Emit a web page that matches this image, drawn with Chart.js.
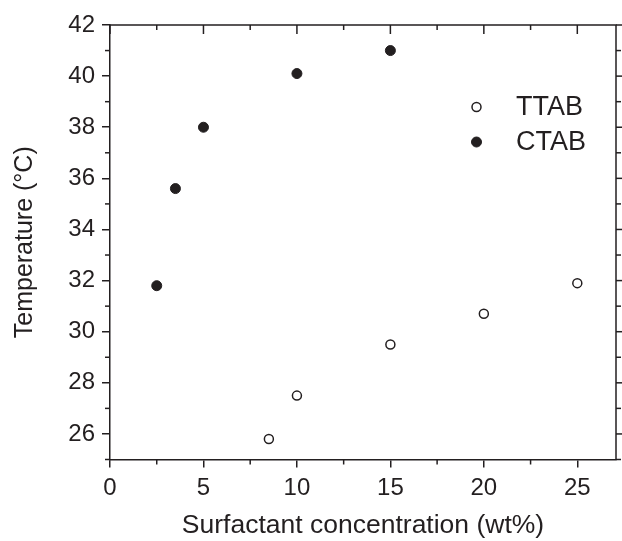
<!DOCTYPE html>
<html>
<head>
<meta charset="utf-8">
<script src="https://cdn.jsdelivr.net/npm/chart.js@4.4.1/dist/chart.umd.min.js"></script>
<style>
html,body{margin:0;padding:0;background:#fff;}
#wrap{width:622px;height:541px;position:relative;}
</style>
</head>
<body>
<div id="wrap"><canvas id="c" width="622" height="541"></canvas></div>
<script>
// ---- data ----
const ttabX = [8.5, 10, 15, 20, 25];
const ttabY = [25.8, 27.5, 29.5, 30.7, 31.9];
const ctabX = [2.5, 3.5, 5, 10, 15];
const ctabY = [31.8, 35.6, 38.0, 40.1, 41.0];
const xTicks = [0, 5, 10, 15, 20, 25];
const xMinor = [2.5, 7.5, 12.5, 17.5, 22.5];
const yTicks = [26, 28, 30, 32, 34, 36, 38, 40, 42];
const yMinor = [25, 27, 29, 31, 33, 35, 37, 39, 41];
const seriesNames = ['TTAB', 'CTAB'];
const xTitle = 'Surfactant concentration (wt%)';
const yTitle = 'Temperature (°C)';

const INK = '#231f20';
const FONT = "'Liberation Sans', Arial, Helvetica, sans-serif";

const toPts = (xs, ys) => xs.map((v, i) => ({x: v, y: ys[i]}));

const extraTicks = {
  id: 'extraTicks',
  afterDraw(chart) {
    const {ctx, chartArea: {left, right, top, bottom}, scales: {x, y}} = chart;
    ctx.save();
    ctx.strokeStyle = INK;
    ctx.lineWidth = 1.5;
    const seg = (x1, y1, x2, y2) => { ctx.beginPath(); ctx.moveTo(x1, y1); ctx.lineTo(x2, y2); ctx.stroke(); };
    // top & right frame
    ctx.beginPath(); ctx.moveTo(left, top); ctx.lineTo(right, top); ctx.lineTo(right, bottom); ctx.stroke();
    // bottom minor (outward)
    xMinor.forEach(v => { const p = x.getPixelForValue(v); seg(p, bottom, p, bottom + 5); });
    // top major/minor (inward)
    xTicks.forEach(v => { const p = x.getPixelForValue(v); seg(p, top, p, top + 9); });
    xMinor.forEach(v => { const p = x.getPixelForValue(v); seg(p, top, p, top + 5); });
    // left minor (outward)
    yMinor.forEach(v => { const p = y.getPixelForValue(v); seg(left, p, left - 5, p); });
    // right major/minor (outward)
    yTicks.forEach(v => { const p = y.getPixelForValue(v); seg(right, p, right + 8, p); });
    yMinor.forEach(v => { const p = y.getPixelForValue(v); seg(right, p, right + 5, p); });

    // legend
    const items = chart.data.datasets;
    const lx = 476.5, ly0 = 107, dy = 35;
    items.forEach((ds, i) => {
      const cy = ly0 + i * dy;
      ctx.beginPath();
      ctx.arc(lx, cy, ds.pointRadius, 0, Math.PI * 2);
      ctx.fillStyle = ds.pointBackgroundColor;
      ctx.fill();
      ctx.lineWidth = ds.pointBorderWidth;
      ctx.strokeStyle = ds.pointBorderColor;
      ctx.stroke();
      ctx.fillStyle = INK;
      ctx.font = '27px ' + FONT;
      ctx.textAlign = 'left';
      ctx.textBaseline = 'middle';
      ctx.fillText(ds.label, 516, cy + 1);
    });
    ctx.restore();
  }
};

new Chart(document.getElementById('c'), {
  type: 'scatter',
  data: {
    datasets: [
      {
        label: seriesNames[0],
        data: toPts(ttabX, ttabY),
        pointRadius: 4.5,
        pointBorderWidth: 1.5,
        pointBorderColor: INK,
        pointBackgroundColor: '#ffffff',
        showLine: false
      },
      {
        label: seriesNames[1],
        data: toPts(ctabX, ctabY),
        pointRadius: 5,
        pointBorderWidth: 1,
        pointBorderColor: INK,
        pointBackgroundColor: INK,
        showLine: false
      }
    ]
  },
  plugins: [extraTicks],
  options: {
    responsive: false,
    animation: false,
    events: [],
    layout: {padding: {left: 0, right: 2, top: 25, bottom: 0}},
    plugins: {legend: {display: false}, tooltip: {enabled: false}},
    scales: {
      x: {
        type: 'linear',
        min: 0,
        max: 27.07,
        afterBuildTicks: s => { s.ticks = xTicks.map(v => ({value: v})); },
        afterFit: s => { s.height = 81.5; },
        grid: {display: true, drawOnChartArea: false, drawTicks: true, tickLength: 8, color: INK, lineWidth: 1.5},
        border: {display: true, color: INK, width: 1.5},
        ticks: {color: INK, font: {family: FONT, size: 24}, padding: 6, maxRotation: 0, autoSkip: false},
        title: {display: true, text: xTitle, color: INK, font: {family: FONT, size: 26.5, lineHeight: 1}, padding: {top: 0, bottom: 2}}
      },
      y: {
        type: 'linear',
        min: 25,
        max: 42,
        afterBuildTicks: s => { s.ticks = yTicks.map(v => ({value: v})); },
        afterFit: s => { s.width = 110; },
        grid: {display: true, drawOnChartArea: false, drawTicks: true, tickLength: 8, color: INK, lineWidth: 1.5},
        border: {display: true, color: INK, width: 1.5},
        ticks: {color: INK, font: {family: FONT, size: 24}, padding: 7, autoSkip: false},
        title: {display: true, text: yTitle, color: INK, font: {family: FONT, size: 25, lineHeight: 1}, padding: {top: 12.5, bottom: 0}}
      }
    }
  }
});
</script>
</body>
</html>
